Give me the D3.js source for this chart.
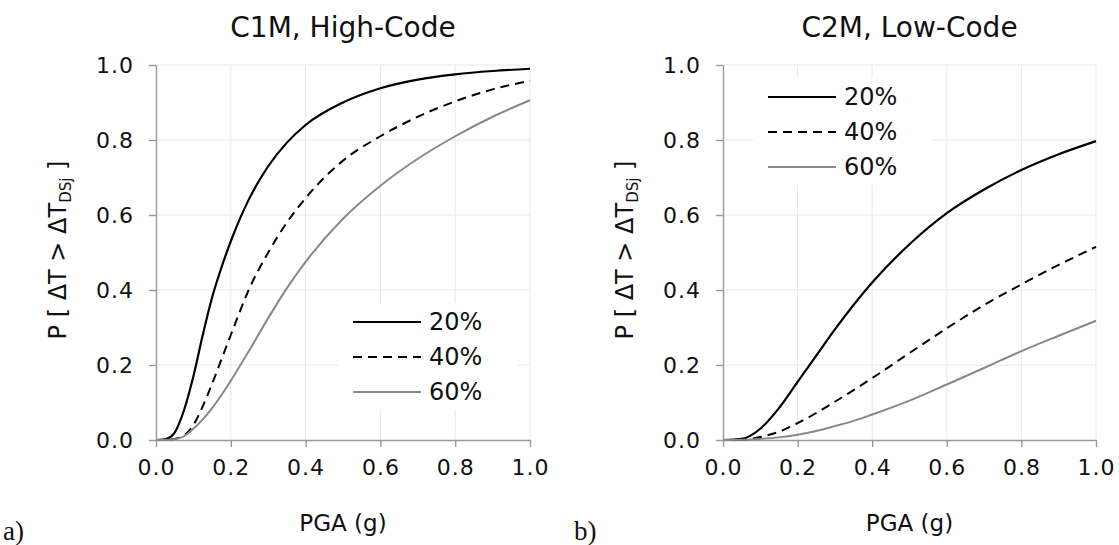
<!DOCTYPE html>
<html>
<head>
<meta charset="utf-8">
<script src="https://cdn.jsdelivr.net/npm/d3@7"></script>
<style>
body { margin: 0; background: #fff; }
svg text { font-family: "DejaVu Sans", Verdana, sans-serif; fill: #111; }
</style>
</head>
<body>
<script>
var width = 1119, height = 545;

// C1M, High-Code
var pga_c1m = [0, 0.025, 0.05, 0.075, 0.1, 0.125, 0.15, 0.175, 0.2, 0.25, 0.3, 0.35, 0.4, 0.5, 0.6, 0.7, 0.8, 0.9, 1.0];
var c1m_20 = [0, 0.002, 0.02, 0.08, 0.17, 0.28, 0.38, 0.46, 0.53, 0.645, 0.73, 0.793, 0.84, 0.90, 0.938, 0.961, 0.975, 0.984, 0.99];
var c1m_40 = [0, 0.0005, 0.003, 0.012, 0.04, 0.09, 0.15, 0.215, 0.28, 0.405, 0.50, 0.58, 0.645, 0.745, 0.81, 0.862, 0.903, 0.935, 0.958];
var c1m_60 = [0, 0, 0.002, 0.01, 0.03, 0.055, 0.085, 0.12, 0.158, 0.24, 0.325, 0.405, 0.475, 0.59, 0.678, 0.75, 0.81, 0.862, 0.906];

// C2M, Low-Code
var pga_c2m = [0, 0.05, 0.1, 0.15, 0.2, 0.25, 0.3, 0.35, 0.4, 0.5, 0.6, 0.7, 0.8, 0.9, 1.0];
var c2m_20 = [0, 0.003, 0.03, 0.085, 0.155, 0.225, 0.295, 0.36, 0.42, 0.522, 0.605, 0.668, 0.72, 0.762, 0.797];
var c2m_40 = [0, 0.001, 0.008, 0.022, 0.045, 0.072, 0.102, 0.133, 0.165, 0.232, 0.298, 0.36, 0.415, 0.467, 0.515];
var c2m_60 = [0, 0.0005, 0.003, 0.007, 0.014, 0.024, 0.037, 0.051, 0.068, 0.105, 0.148, 0.192, 0.237, 0.278, 0.318];

var legend_labels = ["20%", "40%", "60%"];
var ticks = [0, 0.2, 0.4, 0.6, 0.8, 1.0];

var styles = [
    {color: "#000", dash: null, w: 2.2},
    {color: "#000", dash: "9,6", w: 2},
    {color: "#888", dash: null, w: 2}
];

var svg = d3.select("body").append("svg")
    .attr("width", width)
    .attr("height", height);

function draw_panel(opt) {
    var x = d3.scaleLinear().domain([0, 1]).range([opt.left, opt.right]);
    var y = d3.scaleLinear().domain([0, 1]).range([440, 65]);
    var g = svg.append("g");

    // grid
    g.selectAll(".vg").data(ticks.slice(1)).enter().append("line")
        .attr("x1", d => x(d)).attr("x2", d => x(d))
        .attr("y1", y(0)).attr("y2", y(1))
        .attr("stroke", "#e8e8e8").attr("stroke-width", 1);
    g.selectAll(".hg").data(ticks.slice(1)).enter().append("line")
        .attr("x1", x(0)).attr("x2", x(1))
        .attr("y1", d => y(d)).attr("y2", d => y(d))
        .attr("stroke", "#e8e8e8").attr("stroke-width", 1);

    // legend box hides the grid
    g.append("rect")
        .attr("x", opt.lx - 15).attr("y", opt.ly - 19)
        .attr("width", 180).attr("height", 107)
        .attr("fill", "#fff");

    var xAxis = g.append("g").attr("transform", "translate(0," + y(0) + ")")
        .call(d3.axisBottom(x).tickValues(ticks).tickSize(7).tickSizeOuter(0).tickPadding(12).tickFormat(d3.format(".1f")));
    var yAxis = g.append("g").attr("transform", "translate(" + x(0) + ",0)")
        .call(d3.axisLeft(y).tickValues(ticks).tickSize(7).tickSizeOuter(0).tickPadding(15).tickFormat(d3.format(".1f")));
    [xAxis, yAxis].forEach(function(a) {
        a.select(".domain").attr("stroke", "#999").attr("stroke-width", 1.4);
        a.selectAll(".tick line").attr("stroke", "#999").attr("stroke-width", 1.4);
        a.selectAll(".tick text").style("font-size", "22px").style("letter-spacing", "1px").attr("fill", "#111");
    });

    var line = d3.line()
        .x((d, i) => x(opt.pga[i]))
        .y(d => y(d))
        .curve(d3.curveMonotoneX);

    opt.series.forEach(function(s, k) {
        g.append("path")
            .attr("d", line(s))
            .attr("fill", "none")
            .attr("stroke", styles[k].color)
            .attr("stroke-width", styles[k].w)
            .attr("stroke-dasharray", styles[k].dash);
    });

    // legend
    legend_labels.forEach(function(l, k) {
        var ly = opt.ly + k * 35;
        g.append("line")
            .attr("x1", opt.lx).attr("x2", opt.lx + 68)
            .attr("y1", ly).attr("y2", ly)
            .attr("stroke", styles[k].color)
            .attr("stroke-width", styles[k].w)
            .attr("stroke-dasharray", styles[k].dash);
        g.append("text")
            .attr("x", opt.lx + 76).attr("y", ly + 8)
            .style("font-size", "24px")
            .text(l);
    });

    // title
    g.append("text")
        .attr("x", (opt.left + opt.right) / 2).attr("y", 37)
        .attr("text-anchor", "middle")
        .style("font-size", "28px")
        .text(opt.title);

    // x label
    g.append("text")
        .attr("x", (opt.left + opt.right) / 2).attr("y", 531)
        .attr("text-anchor", "middle")
        .style("font-size", "23px")
        .text("PGA (g)");

    // y label
    var yl = g.append("text")
        .attr("transform", "translate(" + (opt.left - 90) + ",250) rotate(-90)")
        .attr("text-anchor", "middle")
        .style("font-size", "24px");
    yl.append("tspan").text("P [ ΔT > ΔT");
    yl.append("tspan").attr("dy", 5).style("font-size", "15px").text("DSj");
    yl.append("tspan").attr("dy", -5).text(" ]");

    // panel letter
    svg.append("text")
        .attr("x", opt.letterX).attr("y", 540)
        .style("font-family", "'Liberation Serif', 'Times New Roman', serif")
        .style("font-size", "27px")
        .text(opt.letter);
}

draw_panel({left: 156, right: 530, title: "C1M, High-Code", pga: pga_c1m,
    series: [c1m_20, c1m_40, c1m_60], lx: 353, ly: 322, letter: "a)", letterX: 3});
draw_panel({left: 723, right: 1096, title: "C2M, Low-Code", pga: pga_c2m,
    series: [c2m_20, c2m_40, c2m_60], lx: 768, ly: 97, letter: "b)", letterX: 574});
</script>
</body>
</html>
